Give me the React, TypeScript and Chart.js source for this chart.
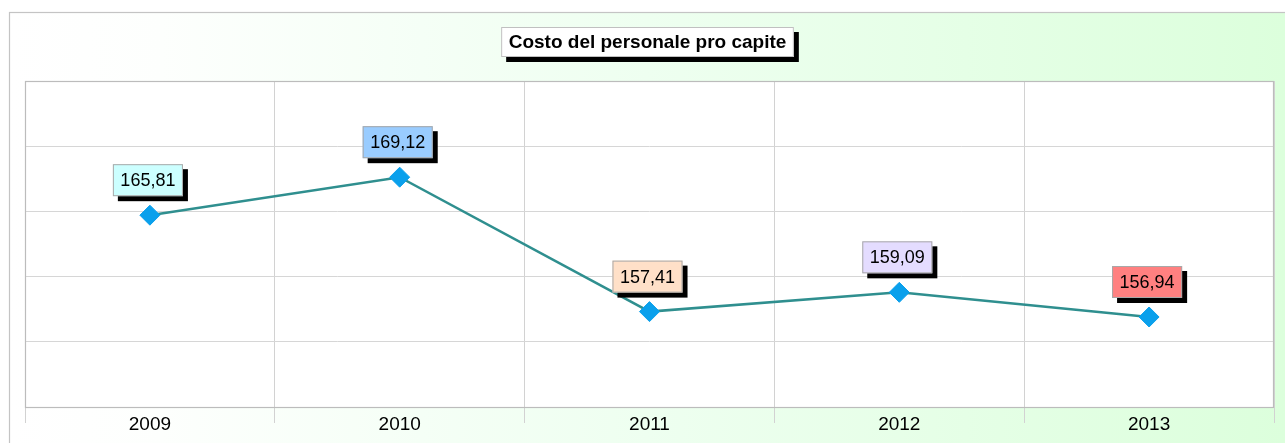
import { useEffect, useRef } from "react";
import { Chart, registerables } from "chart.js";

Chart.register(...registerables);

const years = ["2009", "2010", "2011", "2012", "2013"];
const costPerCapita = [165.81, 169.12, 157.41, 159.09, 156.94];
const labelColors = ["#ccffff", "#99ccff", "#ffe0c8", "#e4dcff", "#ff8080"];
const chartTitle = "Costo del personale pro capite";
const yMin = 149.1;
const yMax = 177.5;
const yDivisions = 5;

const FONT = "'Liberation Sans', Arial, sans-serif";

const fmt = (v: number) => v.toFixed(2).replace(".", ",");

const decorPlugin = {
  id: "decor",
  beforeDraw(chart: any) {
    const { ctx, width, height, chartArea } = chart;
    ctx.save();
    ctx.fillStyle = "#ffffff";
    ctx.fillRect(0, 0, width, height);
    const g = ctx.createLinearGradient(9, 0, width, 0);
    g.addColorStop(0, "#ffffff");
    g.addColorStop(0.12, "#fdfffd");
    g.addColorStop(0.5, "#eefff0");
    g.addColorStop(1, "#dcffdc");
    ctx.fillStyle = g;
    ctx.fillRect(9.5, 12.5, width + 20, height + 20);
    ctx.strokeStyle = "#c4c4c4";
    ctx.lineWidth = 1.2;
    ctx.strokeRect(9.5, 12.5, width + 20, height + 20);
    ctx.fillStyle = "#ffffff";
    ctx.fillRect(chartArea.left, chartArea.top, chartArea.right - chartArea.left, chartArea.bottom - chartArea.top);
    ctx.restore();
  },
  beforeDatasetsDraw(chart: any) {
    const { ctx, chartArea } = chart;
    ctx.save();
    ctx.strokeStyle = "#bcbcbc";
    ctx.lineWidth = 1.2;
    ctx.strokeRect(chartArea.left + 0.5, chartArea.top + 0.5, chartArea.right - chartArea.left - 1, chartArea.bottom - chartArea.top);
    // category labels under the plot
    const xs = chart.scales.x;
    ctx.font = `19px ${FONT}`;
    ctx.fillStyle = "#000000";
    ctx.textAlign = "center";
    ctx.textBaseline = "middle";
    years.forEach((yr, i) => {
      ctx.fillText(yr, xs.getPixelForTick(i), chartArea.bottom + 17.5);
    });
    ctx.restore();
  },
  afterDatasetsDraw(chart: any) {
    const { ctx } = chart;
    const meta = chart.getDatasetMeta(0);
    ctx.save();
    ctx.font = `18px ${FONT}`;
    ctx.textAlign = "center";
    ctx.textBaseline = "middle";
    meta.data.forEach((pt: any, i: number) => {
      const text = fmt(costPerCapita[i]);
      const tw = ctx.measureText(text).width;
      const w = tw + 15;
      const h = 32;
      const cx = pt.x - 2;
      const cy = pt.y - 35;
      const x = cx - w / 2;
      const y = cy - h / 2;
      ctx.fillStyle = "#000000";
      ctx.fillRect(x + 5, y + 5, w, h);
      ctx.fillStyle = labelColors[i];
      ctx.fillRect(x, y, w, h);
      ctx.strokeStyle = "#a8a8a8";
      ctx.lineWidth = 1;
      ctx.strokeRect(x + 0.5, y + 0.5, w - 1, h - 1);
      ctx.fillStyle = "#000000";
      ctx.fillText(text, cx, cy + 1);
    });
    ctx.restore();
  },
  afterDraw(chart: any) {
    const { ctx, chartArea } = chart;
    ctx.save();
    ctx.font = `bold 19px ${FONT}`;
    ctx.textAlign = "center";
    ctx.textBaseline = "middle";
    const tw = ctx.measureText(chartTitle).width;
    const w = tw + 15;
    const h = 30;
    const cx = (chartArea.left + chartArea.right) / 2 - 2;
    const cy = 42;
    const x = cx - w / 2;
    const y = cy - h / 2;
    ctx.fillStyle = "#000000";
    ctx.fillRect(x + 5, y + 5, w, h);
    ctx.fillStyle = "#ffffff";
    ctx.fillRect(x, y, w, h);
    ctx.strokeStyle = "#c0c0c0";
    ctx.lineWidth = 1;
    ctx.strokeRect(x + 0.5, y + 0.5, w - 1, h - 1);
    ctx.fillStyle = "#000000";
    ctx.fillText(chartTitle, cx, cy + 1);
    ctx.restore();
  },
};

export default function App() {
  const ref = useRef<HTMLCanvasElement | null>(null);
  useEffect(() => {
    if (!ref.current) return;
    const chart = new Chart(ref.current, {
      type: "line",
      data: {
        labels: years,
        datasets: [
          {
            data: costPerCapita,
            borderColor: "#2f8f8f",
            borderWidth: 2.5,
            pointStyle: "rectRot",
            pointRadius: 10,
            pointBackgroundColor: "#0aa0ec",
            pointBorderColor: "#0aa0ec",
            pointBorderWidth: 1,
            tension: 0,
            fill: false,
          },
        ],
      },
      options: {
        responsive: false,
        animation: false,
        events: [],
        layout: { padding: { left: 25, right: 7, top: 81, bottom: 20 } },
        plugins: { legend: { display: false }, title: { display: false }, tooltip: { enabled: false } },
        scales: {
          x: {
            type: "category",
            offset: true,
            grid: { offset: true, color: "#d2d2d2", lineWidth: 1, tickLength: 16, drawTicks: true },
            border: { display: false },
            ticks: { display: false },
          },
          y: {
            min: yMin,
            max: yMax,
            afterBuildTicks: (scale: any) => {
              scale.ticks = Array.from({ length: yDivisions + 1 }, (_, i) => ({
                value: yMin + (i * (yMax - yMin)) / yDivisions,
              }));
            },
            grid: { color: "#d6d6d6", lineWidth: 1, drawTicks: false },
            border: { display: false },
            ticks: { display: false },
          },
        },
      },
      plugins: [decorPlugin],
    });
    return () => chart.destroy();
  }, []);
  return (
    <div style={{ position: "absolute", left: 0, top: 0, width: 1285, height: 443 }}>
      <canvas ref={ref} width={1285} height={443} style={{ display: "block" }} />
    </div>
  );
}
